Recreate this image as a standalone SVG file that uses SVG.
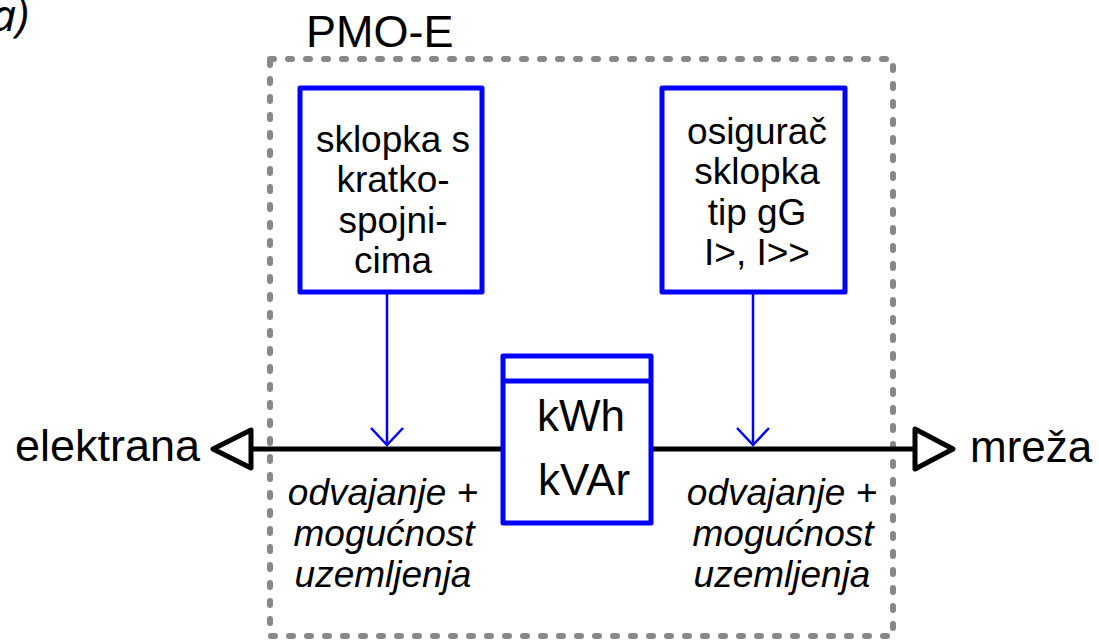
<svg xmlns="http://www.w3.org/2000/svg" width="1099" height="640" viewBox="0 0 1099 640">
<style>
.t{font-family:"Liberation Sans",Arial,sans-serif;fill:#000}
.box{fill:#fff;stroke:#0000ff;stroke-width:5;stroke-linejoin:round}
.blue{stroke:#0000ff;stroke-width:2.5;fill:none}
.main{stroke:#000;stroke-width:5;fill:none}
.tri{stroke:#000;stroke-width:5;fill:#fff;stroke-linejoin:round}
</style>
<rect width="1099" height="640" fill="#fff"/>
<text x="-9" y="31" font-family="'Noto Sans','DejaVu Sans',sans-serif" font-style="italic" font-size="44">a)</text>
<g id="pmo-e">
<rect x="270" y="59" width="623" height="577" fill="none" stroke="#888" stroke-width="6" stroke-dasharray="4 14" stroke-linecap="round"/>
<text class="t" x="306" y="47" font-size="45">PMO-E</text>
</g>
<g id="connectors">
<line class="main" x1="251" y1="449" x2="915" y2="449"/>
<polygon class="tri" points="251,430 213,449 251,468"/>
<polygon class="tri" points="915,429 953,449 915,469"/>
<line class="blue" x1="387" y1="293" x2="387" y2="445"/>
<polyline class="blue" points="371,428 387,445 403,428"/>
<line class="blue" x1="753" y1="293" x2="753" y2="445"/>
<polyline class="blue" points="737,428 753,445 769,428"/>
</g>
<g id="sklopka">
<rect class="box" x="300" y="88" width="182" height="204"/>
<text class="t" font-size="37" text-anchor="middle"><tspan x="393" y="152">sklopka s</tspan><tspan x="393" y="192">kratko-</tspan><tspan x="393" y="233">spojni-</tspan><tspan x="393" y="273">cima</tspan></text>
</g>
<g id="osigurac">
<rect class="box" x="662" y="88" width="183" height="204"/>
<text class="t" font-size="37" text-anchor="middle"><tspan x="757" y="144">osigurač</tspan><tspan x="757" y="184">sklopka</tspan><tspan x="757" y="225">tip gG</tspan><tspan x="757" y="265">I&gt;, I&gt;&gt;</tspan></text>
</g>
<g id="brojilo">
<rect class="box" x="503" y="356" width="148" height="167"/>
<line x1="503" y1="381" x2="651" y2="381" stroke="#0000ff" stroke-width="5"/>
<text class="t" font-size="44" text-anchor="middle"><tspan x="581" y="431">kWh</tspan><tspan x="584" y="495">kVAr</tspan></text>
</g>
<g id="elektrana">
<text class="t" x="200" y="461" font-size="45" text-anchor="end">elektrana</text>
</g>
<g id="mreza">
<text class="t" x="970" y="462" font-size="44">mreža</text>
</g>
<g id="odvajanje-lijevo">
<text class="t" font-size="37" font-style="italic" text-anchor="middle"><tspan x="383" y="505">odvajanje +</tspan><tspan x="384" y="546">mogućnost</tspan><tspan x="383" y="587">uzemljenja</tspan></text>
</g>
<g id="odvajanje-desno">
<text class="t" font-size="37" font-style="italic" text-anchor="middle"><tspan x="782" y="505">odvajanje +</tspan><tspan x="783" y="546">mogućnost</tspan><tspan x="782" y="587">uzemljenja</tspan></text>
</g>
</svg>
